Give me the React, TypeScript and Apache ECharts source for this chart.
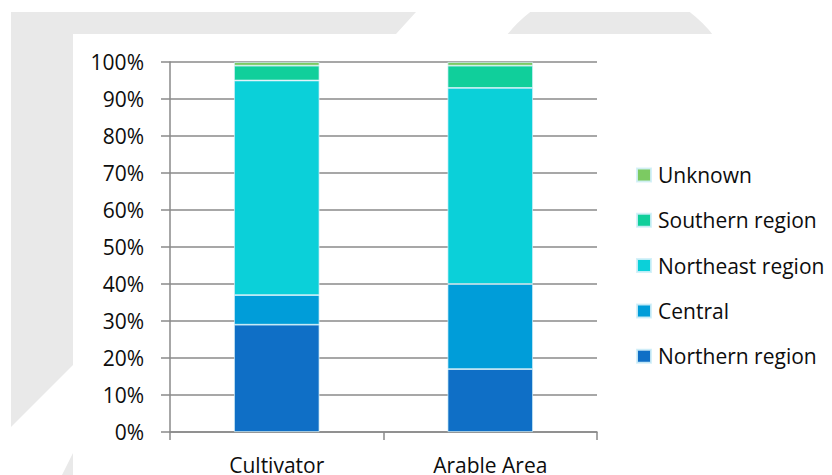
import React, { useEffect, useRef } from "react";
import * as echarts from "echarts";

// Share of each region, in percent, for the two measures
const categories = ["Cultivator", "Arable Area"];
const northernRegion = [29, 17];
const central = [8, 23];
const northeastRegion = [58, 53];
const southernRegion = [4, 6];
const unknown = [1, 1];

const yTicks = { min: 0, max: 100, interval: 10 };

const seriesDefs = [
  { name: "Northern region", data: northernRegion, color: "#0F6FC6" },
  { name: "Central", data: central, color: "#009DD9" },
  { name: "Northeast region", data: northeastRegion, color: "#0BD0D9" },
  { name: "Southern region", data: southernRegion, color: "#10CF9B" },
  { name: "Unknown", data: unknown, color: "#7CCA62" },
];

const FONT = "'Open Sans', sans-serif";
const TEXT = "#0d0d0d";
const LINE = "#8a8a8a";
const WATERMARK = "#e9e9e9";

export default function App() {
  const ref = useRef<HTMLDivElement>(null);

  useEffect(() => {
    if (!ref.current) return;
    const chart = echarts.init(ref.current, null, { renderer: "svg" });

    chart.setOption({
      animation: false,
      backgroundColor: "#ffffff",
      graphic: [
        // faint logo shapes behind the plot panel
        {
          type: "polygon",
          z: -20,
          silent: true,
          shape: {
            points: [
              [11, 12],
              [416, 12],
              [396, 34],
              [73, 34],
              [73, 365],
              [11, 427],
            ],
          },
          style: { fill: WATERMARK },
        },
        {
          type: "circle",
          z: -20,
          silent: true,
          shape: { cx: 610, cy: 116, r: 131 },
          style: { fill: WATERMARK },
        },
        {
          type: "polygon",
          z: -20,
          silent: true,
          shape: {
            points: [
              [73, 453],
              [73, 475],
              [62, 475],
            ],
          },
          style: { fill: WATERMARK },
        },
        // white strip above the logo and the white plot panel
        {
          type: "rect",
          z: -19,
          silent: true,
          shape: { x: 0, y: 0, width: 832, height: 12 },
          style: { fill: "#ffffff" },
        },
        {
          type: "rect",
          z: -19,
          silent: true,
          shape: { x: 73, y: 34, width: 759, height: 441 },
          style: { fill: "#ffffff" },
        },
      ],
      grid: { left: 170, right: 235, top: 62, bottom: 42, containLabel: false },
      legend: {
        orient: "vertical",
        left: 636,
        top: 164,
        padding: 0,
        itemWidth: 14,
        itemHeight: 13,
        itemGap: 23.3,
        icon: "rect",
        data: ["Unknown", "Southern region", "Northeast region", "Central", "Northern region"],
        textStyle: {
          fontFamily: FONT,
          fontSize: 21,
          lineHeight: 22,
          color: TEXT,
          padding: [0, 0, 0, 2],
        },
      },
      xAxis: {
        type: "category",
        data: categories,
        boundaryGap: true,
        axisLine: { show: true, lineStyle: { color: LINE, width: 1.5 } },
        axisTick: { show: true, length: 8, lineStyle: { color: LINE, width: 1.5 } },
        axisLabel: {
          fontFamily: FONT,
          fontSize: 21,
          color: TEXT,
          margin: 22,
        },
      },
      yAxis: {
        type: "value",
        min: yTicks.min,
        max: yTicks.max,
        interval: yTicks.interval,
        axisLine: { show: true, lineStyle: { color: LINE, width: 1.5 } },
        axisTick: { show: true, length: 9, lineStyle: { color: LINE, width: 1.5 } },
        splitLine: { show: true, lineStyle: { color: LINE, width: 1.5 } },
        axisLabel: {
          fontFamily: FONT,
          fontSize: 21,
          color: TEXT,
          margin: 26,
          formatter: "{value}%",
        },
      },
      series: seriesDefs.map((s) => ({
        name: s.name,
        type: "bar",
        stack: "total",
        barWidth: "40%",
        data: s.data,
        itemStyle: {
          color: s.color,
          borderColor: "rgba(210, 240, 248, 0.9)",
          borderWidth: 0.8,
        },
      })),
    });

    return () => chart.dispose();
  }, []);

  return (
    <div
      ref={ref}
      style={{ position: "fixed", left: 0, top: 0, width: 832, height: 475 }}
    />
  );
}
